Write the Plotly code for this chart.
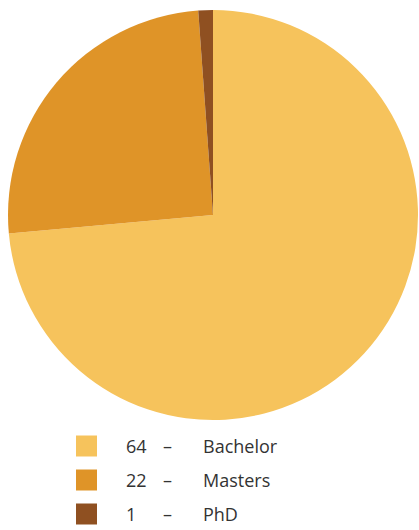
import plotly.graph_objects as go

categories = ["Bachelor", "Masters", "PhD"]
values = [64, 22, 1]
colors = ["#F6C35C", "#DF9428", "#8F5021"]

W, H = 419, 530
cx, cy, r = 213, 215, 205

fig = go.Figure(go.Pie(
    labels=categories, values=values, sort=False, direction="clockwise",
    rotation=0, marker=dict(colors=colors, line=dict(width=0)),
    textinfo="none", hoverinfo="label+value", showlegend=False,
    domain=dict(x=[(cx - r) / W, (cx + r) / W], y=[1 - (cy + r) / H, 1 - (cy - r) / H]),
))

shapes, annotations = [], []
row_y = [446, 480, 514]
font = dict(family="Open Sans, Noto Sans, sans-serif", size=18, color="#333333")
for i, (cat, val, col) in enumerate(zip(categories, values, colors)):
    y = row_y[i]
    shapes.append(dict(type="rect", xref="paper", yref="paper",
                       x0=76 / W, x1=97 / W,
                       y0=1 - (y + 10.5) / H, y1=1 - (y - 10.5) / H,
                       fillcolor=col, line=dict(width=0)))
    for x, txt in [(124, str(val)), (161, "–"), (201, cat)]:
        annotations.append(dict(x=x / W, y=1 - y / H, xref="paper", yref="paper",
                                text=txt, showarrow=False, xanchor="left", yanchor="middle",
                                font=font))

fig.update_layout(width=W, height=H, margin=dict(l=0, r=0, t=0, b=0),
                  paper_bgcolor="white", plot_bgcolor="white",
                  shapes=shapes, annotations=annotations)
fig.write_html("out.html", config={"displayModeBar": False},
               post_script="document.body.style.margin='0';document.body.style.overflow='hidden';")
